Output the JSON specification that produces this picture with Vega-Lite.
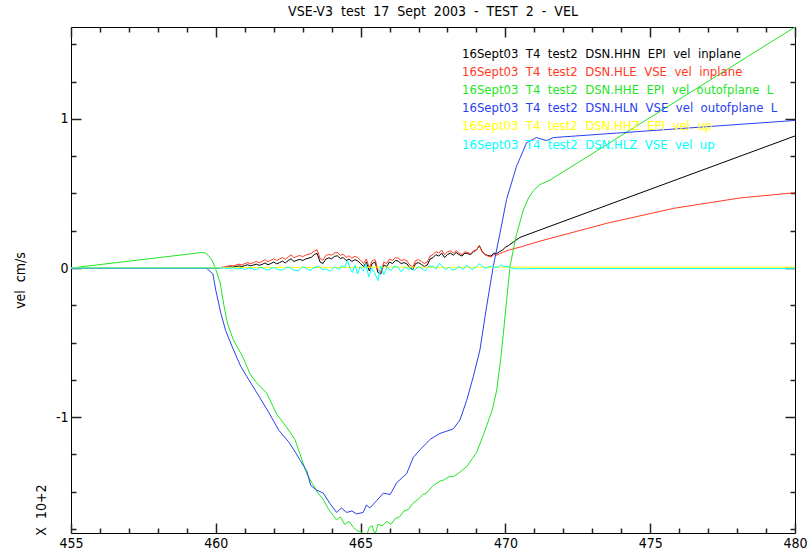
{
  "$schema": "https://vega.github.io/schema/vega-lite/v6.json",
  "width": 724,
  "height": 506,
  "autosize": {"type": "none"},
  "padding": {"left": 71, "top": 27, "right": 12, "bottom": 23},
  "background": "white",
  "title": {"text": "VSE-V3\u00a0 test\u00a0 17\u00a0 Sept\u00a0 2003\u00a0 -\u00a0 TEST\u00a0 2\u00a0 -\u00a0 VEL", "font": "DejaVu Sans Condensed, Roboto, sans-serif", "fontSize": 14, "fontWeight": "normal", "color": "black", "offset": 7},
  "config": {
    "view": {"stroke": "black", "strokeWidth": 1},
    "font": "DejaVu Sans Condensed, Roboto, sans-serif",
    "axis": {"domain": false, "ticks": true, "tickColor": "#222222", "tickOpacity": 1, "labelColor": "black", "labelFont": "DejaVu Sans Condensed, Roboto, sans-serif", "labelFontSize": 14, "grid": false, "titleFont": "DejaVu Sans Condensed, Roboto, sans-serif", "titleFontWeight": "normal", "titleColor": "black", "tickWidth": 1.5, "labelOverlap": false, "labelFlush": false, "zindex": 1}
  },
  "data": {"values": [
    {"s":"HHN","x":455,"y":0},{"s":"HHN","x":460.0,"y":0},{"s":"HHN","x":460.1,"y":0},{"s":"HHN","x":460.2,"y":0.002},{"s":"HHN","x":460.3,"y":0.004},{"s":"HHN","x":460.4,"y":0.006},{"s":"HHN","x":460.5,"y":0.008},{"s":"HHN","x":460.6,"y":0.006},{"s":"HHN","x":460.7,"y":0.01},{"s":"HHN","x":460.8,"y":0.014},{"s":"HHN","x":460.9,"y":0.01},
    {"s":"HHN","x":461.0,"y":0.016},{"s":"HHN","x":461.1,"y":0.022},{"s":"HHN","x":461.2,"y":0.014},{"s":"HHN","x":461.3,"y":0.02},{"s":"HHN","x":461.4,"y":0.026},{"s":"HHN","x":461.5,"y":0.018},{"s":"HHN","x":461.6,"y":0.024},{"s":"HHN","x":461.7,"y":0.034},{"s":"HHN","x":461.8,"y":0.022},{"s":"HHN","x":461.9,"y":0.03},
    {"s":"HHN","x":462.0,"y":0.04},{"s":"HHN","x":462.1,"y":0.028},{"s":"HHN","x":462.2,"y":0.036},{"s":"HHN","x":462.3,"y":0.046},{"s":"HHN","x":462.4,"y":0.034},{"s":"HHN","x":462.5,"y":0.05},{"s":"HHN","x":462.6,"y":0.062},{"s":"HHN","x":462.7,"y":0.044},{"s":"HHN","x":462.8,"y":0.052},{"s":"HHN","x":462.9,"y":0.058},
    {"s":"HHN","x":463.0,"y":0.05},{"s":"HHN","x":463.1,"y":0.06},{"s":"HHN","x":463.2,"y":0.066},{"s":"HHN","x":463.3,"y":0.072},{"s":"HHN","x":463.4,"y":0.09},{"s":"HHN","x":463.5,"y":0.098},{"s":"HHN","x":463.6,"y":0.04},{"s":"HHN","x":463.7,"y":0.03},{"s":"HHN","x":463.8,"y":0.06},{"s":"HHN","x":463.9,"y":0.068},
    {"s":"HHN","x":464.0,"y":0.062},{"s":"HHN","x":464.1,"y":0.078},{"s":"HHN","x":464.2,"y":0.082},{"s":"HHN","x":464.3,"y":0.064},{"s":"HHN","x":464.4,"y":0.07},{"s":"HHN","x":464.5,"y":0.05},{"s":"HHN","x":464.6,"y":0.06},{"s":"HHN","x":464.7,"y":0.044},{"s":"HHN","x":464.8,"y":0.056},{"s":"HHN","x":464.9,"y":0.048},
    {"s":"HHN","x":465.0,"y":0.03},{"s":"HHN","x":465.1,"y":0.01},{"s":"HHN","x":465.2,"y":0.04},{"s":"HHN","x":465.3,"y":-0.02},{"s":"HHN","x":465.4,"y":0.03},{"s":"HHN","x":465.5,"y":0.04},{"s":"HHN","x":465.6,"y":-0.03},{"s":"HHN","x":465.7,"y":-0.04},{"s":"HHN","x":465.8,"y":0.02},{"s":"HHN","x":465.9,"y":0.01},
    {"s":"HHN","x":466.0,"y":0.04},{"s":"HHN","x":466.1,"y":0.03},{"s":"HHN","x":466.2,"y":0.05},{"s":"HHN","x":466.3,"y":0.046},{"s":"HHN","x":466.4,"y":0.03},{"s":"HHN","x":466.5,"y":0.036},{"s":"HHN","x":466.6,"y":0.028},{"s":"HHN","x":466.7,"y":0.0},{"s":"HHN","x":466.8,"y":-0.01},{"s":"HHN","x":466.9,"y":0.03},
    {"s":"HHN","x":467.0,"y":0.036},{"s":"HHN","x":467.1,"y":0.024},{"s":"HHN","x":467.2,"y":0.01},{"s":"HHN","x":467.3,"y":0.02},{"s":"HHN","x":467.4,"y":0.06},{"s":"HHN","x":467.5,"y":0.07},{"s":"HHN","x":467.6,"y":0.09},{"s":"HHN","x":467.7,"y":0.08},{"s":"HHN","x":467.8,"y":0.1},{"s":"HHN","x":467.9,"y":0.07},
    {"s":"HHN","x":468.0,"y":0.09},{"s":"HHN","x":468.1,"y":0.1},{"s":"HHN","x":468.2,"y":0.086},{"s":"HHN","x":468.3,"y":0.104},{"s":"HHN","x":468.4,"y":0.09},{"s":"HHN","x":468.5,"y":0.08},{"s":"HHN","x":468.6,"y":0.1},{"s":"HHN","x":468.7,"y":0.096},{"s":"HHN","x":468.8,"y":0.09},{"s":"HHN","x":468.9,"y":0.11},
    {"s":"HHN","x":469.0,"y":0.12},{"s":"HHN","x":469.1,"y":0.15},{"s":"HHN","x":469.2,"y":0.11},{"s":"HHN","x":469.3,"y":0.09},{"s":"HHN","x":469.4,"y":0.084},{"s":"HHN","x":469.5,"y":0.08},{"s":"HHN","x":469.6,"y":0.1},{"s":"HHN","x":469.7,"y":0.096},{"s":"HHN","x":469.8,"y":0.11},{"s":"HHN","x":469.9,"y":0.12},
    {"s":"HHN","x":470.0,"y":0.14},{"s":"HHN","x":470.1,"y":0.15},{"s":"HHN","x":470.5,"y":0.205},{"s":"HHN","x":471.19,"y":0.255},{"s":"HHN","x":480,"y":0.886},

    {"s":"HLE","x":455,"y":0},{"s":"HLE","x":460.0,"y":0},{"s":"HLE","x":460.1,"y":0.002},{"s":"HLE","x":460.2,"y":0.004},{"s":"HLE","x":460.3,"y":0.008},{"s":"HLE","x":460.4,"y":0.012},{"s":"HLE","x":460.5,"y":0.016},{"s":"HLE","x":460.6,"y":0.014},{"s":"HLE","x":460.7,"y":0.02},{"s":"HLE","x":460.8,"y":0.026},{"s":"HLE","x":460.9,"y":0.02},
    {"s":"HLE","x":461.0,"y":0.03},{"s":"HLE","x":461.1,"y":0.036},{"s":"HLE","x":461.2,"y":0.028},{"s":"HLE","x":461.3,"y":0.036},{"s":"HLE","x":461.4,"y":0.044},{"s":"HLE","x":461.5,"y":0.034},{"s":"HLE","x":461.6,"y":0.044},{"s":"HLE","x":461.7,"y":0.056},{"s":"HLE","x":461.8,"y":0.042},{"s":"HLE","x":461.9,"y":0.052},
    {"s":"HLE","x":462.0,"y":0.062},{"s":"HLE","x":462.1,"y":0.05},{"s":"HLE","x":462.2,"y":0.06},{"s":"HLE","x":462.3,"y":0.07},{"s":"HLE","x":462.4,"y":0.058},{"s":"HLE","x":462.5,"y":0.074},{"s":"HLE","x":462.6,"y":0.088},{"s":"HLE","x":462.7,"y":0.068},{"s":"HLE","x":462.8,"y":0.078},{"s":"HLE","x":462.9,"y":0.084},
    {"s":"HLE","x":463.0,"y":0.076},{"s":"HLE","x":463.1,"y":0.086},{"s":"HLE","x":463.2,"y":0.092},{"s":"HLE","x":463.3,"y":0.098},{"s":"HLE","x":463.4,"y":0.114},{"s":"HLE","x":463.5,"y":0.122},{"s":"HLE","x":463.6,"y":0.064},{"s":"HLE","x":463.7,"y":0.052},{"s":"HLE","x":463.8,"y":0.084},{"s":"HLE","x":463.9,"y":0.092},
    {"s":"HLE","x":464.0,"y":0.086},{"s":"HLE","x":464.1,"y":0.1},{"s":"HLE","x":464.2,"y":0.104},{"s":"HLE","x":464.3,"y":0.086},{"s":"HLE","x":464.4,"y":0.092},{"s":"HLE","x":464.5,"y":0.07},{"s":"HLE","x":464.6,"y":0.082},{"s":"HLE","x":464.7,"y":0.066},{"s":"HLE","x":464.8,"y":0.078},{"s":"HLE","x":464.9,"y":0.07},
    {"s":"HLE","x":465.0,"y":0.052},{"s":"HLE","x":465.1,"y":0.03},{"s":"HLE","x":465.2,"y":0.06},{"s":"HLE","x":465.3,"y":0.0},{"s":"HLE","x":465.4,"y":0.05},{"s":"HLE","x":465.5,"y":0.056},{"s":"HLE","x":465.6,"y":-0.01},{"s":"HLE","x":465.7,"y":-0.03},{"s":"HLE","x":465.8,"y":0.04},{"s":"HLE","x":465.9,"y":0.03},
    {"s":"HLE","x":466.0,"y":0.06},{"s":"HLE","x":466.1,"y":0.05},{"s":"HLE","x":466.2,"y":0.07},{"s":"HLE","x":466.3,"y":0.066},{"s":"HLE","x":466.4,"y":0.05},{"s":"HLE","x":466.5,"y":0.056},{"s":"HLE","x":466.6,"y":0.048},{"s":"HLE","x":466.7,"y":0.02},{"s":"HLE","x":466.8,"y":0.004},{"s":"HLE","x":466.9,"y":0.05},
    {"s":"HLE","x":467.0,"y":0.056},{"s":"HLE","x":467.1,"y":0.044},{"s":"HLE","x":467.2,"y":0.03},{"s":"HLE","x":467.3,"y":0.04},{"s":"HLE","x":467.4,"y":0.08},{"s":"HLE","x":467.5,"y":0.09},{"s":"HLE","x":467.6,"y":0.11},{"s":"HLE","x":467.7,"y":0.1},{"s":"HLE","x":467.8,"y":0.12},{"s":"HLE","x":467.9,"y":0.09},
    {"s":"HLE","x":468.0,"y":0.108},{"s":"HLE","x":468.1,"y":0.116},{"s":"HLE","x":468.2,"y":0.1},{"s":"HLE","x":468.3,"y":0.116},{"s":"HLE","x":468.4,"y":0.1},{"s":"HLE","x":468.5,"y":0.09},{"s":"HLE","x":468.6,"y":0.108},{"s":"HLE","x":468.7,"y":0.104},{"s":"HLE","x":468.8,"y":0.096},{"s":"HLE","x":468.9,"y":0.114},
    {"s":"HLE","x":469.0,"y":0.122},{"s":"HLE","x":469.1,"y":0.148},{"s":"HLE","x":469.2,"y":0.108},{"s":"HLE","x":469.3,"y":0.088},{"s":"HLE","x":469.4,"y":0.08},{"s":"HLE","x":469.5,"y":0.074},{"s":"HLE","x":469.6,"y":0.09},{"s":"HLE","x":469.7,"y":0.086},{"s":"HLE","x":469.8,"y":0.096},{"s":"HLE","x":469.9,"y":0.104},
    {"s":"HLE","x":470.0,"y":0.112},{"s":"HLE","x":470.1,"y":0.12},{"s":"HLE","x":470.5,"y":0.14},{"s":"HLE","x":471.19,"y":0.18},{"s":"HLE","x":473.5,"y":0.3},{"s":"HLE","x":475.8,"y":0.4},{"s":"HLE","x":478.1,"y":0.47},{"s":"HLE","x":480,"y":0.505},

    {"s":"HHE","x":455,"y":0},{"s":"HHE","x":456,"y":0.023},{"s":"HHE","x":457,"y":0.046},{"s":"HHE","x":458,"y":0.069},{"s":"HHE","x":459,"y":0.092},{"s":"HHE","x":459.5,"y":0.104},{"s":"HHE","x":459.65,"y":0.1},{"s":"HHE","x":459.8,"y":0.072},{"s":"HHE","x":459.9,"y":0.04},{"s":"HHE","x":460.0,"y":-0.01},
    {"s":"HHE","x":460.15,"y":-0.1},{"s":"HHE","x":460.28,"y":-0.25},{"s":"HHE","x":460.4,"y":-0.37},{"s":"HHE","x":460.6,"y":-0.48},{"s":"HHE","x":460.94,"y":-0.6},{"s":"HHE","x":461.18,"y":-0.71},{"s":"HHE","x":461.41,"y":-0.77},{"s":"HHE","x":461.76,"y":-0.84},{"s":"HHE","x":462.1,"y":-0.98},{"s":"HHE","x":462.45,"y":-1.07},
    {"s":"HHE","x":462.73,"y":-1.15},{"s":"HHE","x":462.91,"y":-1.25},{"s":"HHE","x":463.1,"y":-1.36},{"s":"HHE","x":463.2,"y":-1.4},{"s":"HHE","x":463.31,"y":-1.44},{"s":"HHE","x":463.53,"y":-1.51},{"s":"HHE","x":463.7,"y":-1.55},{"s":"HHE","x":463.9,"y":-1.62},{"s":"HHE","x":464.05,"y":-1.66},{"s":"HHE","x":464.17,"y":-1.69},
    {"s":"HHE","x":464.3,"y":-1.67},{"s":"HHE","x":464.45,"y":-1.72},{"s":"HHE","x":464.6,"y":-1.7},{"s":"HHE","x":464.75,"y":-1.74},{"s":"HHE","x":464.85,"y":-1.76},{"s":"HHE","x":465.0,"y":-1.77},{"s":"HHE","x":465.2,"y":-1.8},{"s":"HHE","x":465.3,"y":-1.74},{"s":"HHE","x":465.4,"y":-1.73},{"s":"HHE","x":465.5,"y":-1.79},
    {"s":"HHE","x":465.6,"y":-1.72},{"s":"HHE","x":465.75,"y":-1.73},{"s":"HHE","x":465.9,"y":-1.7},{"s":"HHE","x":466.05,"y":-1.72},{"s":"HHE","x":466.2,"y":-1.68},{"s":"HHE","x":466.35,"y":-1.67},{"s":"HHE","x":466.5,"y":-1.63},{"s":"HHE","x":466.65,"y":-1.62},{"s":"HHE","x":466.8,"y":-1.58},{"s":"HHE","x":467.0,"y":-1.55},
    {"s":"HHE","x":467.15,"y":-1.52},{"s":"HHE","x":467.28,"y":-1.51},{"s":"HHE","x":467.5,"y":-1.46},{"s":"HHE","x":467.74,"y":-1.43},{"s":"HHE","x":467.9,"y":-1.42},{"s":"HHE","x":468.05,"y":-1.4},{"s":"HHE","x":468.2,"y":-1.4},{"s":"HHE","x":468.43,"y":-1.37},{"s":"HHE","x":468.55,"y":-1.35},{"s":"HHE","x":468.68,"y":-1.33},
    {"s":"HHE","x":468.85,"y":-1.28},{"s":"HHE","x":469.0,"y":-1.24},{"s":"HHE","x":469.2,"y":-1.14},{"s":"HHE","x":469.35,"y":-1.06},{"s":"HHE","x":469.55,"y":-0.95},{"s":"HHE","x":469.7,"y":-0.82},{"s":"HHE","x":469.82,"y":-0.64},{"s":"HHE","x":469.93,"y":-0.44},{"s":"HHE","x":470.05,"y":-0.2},{"s":"HHE","x":470.16,"y":0.01},
    {"s":"HHE","x":470.28,"y":0.13},{"s":"HHE","x":470.39,"y":0.23},{"s":"HHE","x":470.62,"y":0.39},{"s":"HHE","x":470.8,"y":0.47},{"s":"HHE","x":470.97,"y":0.52},{"s":"HHE","x":471.2,"y":0.56},{"s":"HHE","x":471.54,"y":0.59},{"s":"HHE","x":480,"y":1.617},

    {"s":"HLN","x":455,"y":0},{"s":"HLN","x":459.6,"y":0},{"s":"HLN","x":459.7,"y":-0.005},{"s":"HLN","x":459.9,"y":-0.04},{"s":"HLN","x":460.0,"y":-0.15},{"s":"HLN","x":460.17,"y":-0.3},{"s":"HLN","x":460.34,"y":-0.42},{"s":"HLN","x":460.57,"y":-0.53},{"s":"HLN","x":460.86,"y":-0.66},{"s":"HLN","x":461.14,"y":-0.75},
    {"s":"HLN","x":461.49,"y":-0.86},{"s":"HLN","x":461.83,"y":-0.97},{"s":"HLN","x":462.18,"y":-1.09},{"s":"HLN","x":462.53,"y":-1.17},{"s":"HLN","x":462.76,"y":-1.24},{"s":"HLN","x":462.91,"y":-1.29},{"s":"HLN","x":463.14,"y":-1.36},{"s":"HLN","x":463.28,"y":-1.46},{"s":"HLN","x":463.48,"y":-1.49},{"s":"HLN","x":463.71,"y":-1.51},
    {"s":"HLN","x":463.94,"y":-1.58},{"s":"HLN","x":464.17,"y":-1.64},{"s":"HLN","x":464.34,"y":-1.61},{"s":"HLN","x":464.52,"y":-1.64},{"s":"HLN","x":464.7,"y":-1.63},{"s":"HLN","x":464.86,"y":-1.65},{"s":"HLN","x":465.09,"y":-1.64},{"s":"HLN","x":465.2,"y":-1.59},{"s":"HLN","x":465.32,"y":-1.61},{"s":"HLN","x":465.56,"y":-1.56},
    {"s":"HLN","x":465.79,"y":-1.51},{"s":"HLN","x":466.02,"y":-1.52},{"s":"HLN","x":466.25,"y":-1.44},{"s":"HLN","x":466.59,"y":-1.38},{"s":"HLN","x":466.82,"y":-1.27},{"s":"HLN","x":467.05,"y":-1.22},{"s":"HLN","x":467.4,"y":-1.15},{"s":"HLN","x":467.74,"y":-1.11},{"s":"HLN","x":468.2,"y":-1.08},{"s":"HLN","x":468.43,"y":-1.02},
    {"s":"HLN","x":468.66,"y":-0.89},{"s":"HLN","x":468.89,"y":-0.73},{"s":"HLN","x":469.12,"y":-0.55},{"s":"HLN","x":469.35,"y":-0.26},{"s":"HLN","x":469.58,"y":0.01},{"s":"HLN","x":469.81,"y":0.23},{"s":"HLN","x":470.04,"y":0.46},{"s":"HLN","x":470.38,"y":0.68},{"s":"HLN","x":470.73,"y":0.84},{"s":"HLN","x":471.07,"y":0.875},
    {"s":"HLN","x":471.42,"y":0.855},{"s":"HLN","x":471.65,"y":0.875},{"s":"HLN","x":480,"y":0.99},

    {"s":"HHZ","x":455,"y":0.002},{"s":"HHZ","x":460,"y":0.002},{"s":"HHZ","x":462,"y":0.004},{"s":"HHZ","x":464,"y":0.003},{"s":"HHZ","x":466,"y":0.006},{"s":"HHZ","x":468,"y":0.004},{"s":"HHZ","x":470,"y":0.006},{"s":"HHZ","x":480,"y":0.006},

    {"s":"HLZ","x":455,"y":0},{"s":"HLZ","x":460.3,"y":0},{"s":"HLZ","x":460.45,"y":-0.004},{"s":"HLZ","x":460.6,"y":0.002},{"s":"HLZ","x":460.7,"y":-0.006},{"s":"HLZ","x":460.9,"y":-0.002},{"s":"HLZ","x":461.0,"y":-0.01},
    {"s":"HLZ","x":461.15,"y":0.002},{"s":"HLZ","x":461.25,"y":-0.004},{"s":"HLZ","x":461.4,"y":-0.012},{"s":"HLZ","x":461.55,"y":0.006},{"s":"HLZ","x":461.7,"y":-0.008},{"s":"HLZ","x":461.8,"y":-0.014},{"s":"HLZ","x":462.0,"y":0.004},
    {"s":"HLZ","x":462.1,"y":-0.006},{"s":"HLZ","x":462.3,"y":-0.016},{"s":"HLZ","x":462.45,"y":0.006},{"s":"HLZ","x":462.55,"y":0.002},{"s":"HLZ","x":462.7,"y":-0.014},{"s":"HLZ","x":462.85,"y":-0.02},{"s":"HLZ","x":463.0,"y":0.008},
    {"s":"HLZ","x":463.15,"y":-0.004},{"s":"HLZ","x":463.25,"y":-0.018},{"s":"HLZ","x":463.4,"y":0.004},{"s":"HLZ","x":463.55,"y":0.012},{"s":"HLZ","x":463.7,"y":-0.012},{"s":"HLZ","x":463.8,"y":-0.006},{"s":"HLZ","x":463.95,"y":-0.022},
    {"s":"HLZ","x":464.1,"y":0.008},{"s":"HLZ","x":464.25,"y":-0.01},{"s":"HLZ","x":464.35,"y":0.016},{"s":"HLZ","x":464.45,"y":0.004},{"s":"HLZ","x":464.55,"y":0.05},{"s":"HLZ","x":464.65,"y":-0.01},{"s":"HLZ","x":464.72,"y":-0.03},{"s":"HLZ","x":464.8,"y":0.02},
    {"s":"HLZ","x":464.9,"y":-0.04},{"s":"HLZ","x":464.98,"y":0.01},{"s":"HLZ","x":465.1,"y":-0.02},{"s":"HLZ","x":465.18,"y":0.03},{"s":"HLZ","x":465.28,"y":-0.06},{"s":"HLZ","x":465.38,"y":0.0},{"s":"HLZ","x":465.48,"y":-0.03},{"s":"HLZ","x":465.6,"y":-0.085},
    {"s":"HLZ","x":465.7,"y":0.015},{"s":"HLZ","x":465.8,"y":-0.045},{"s":"HLZ","x":465.92,"y":0.006},{"s":"HLZ","x":466.05,"y":-0.018},{"s":"HLZ","x":466.15,"y":0.012},{"s":"HLZ","x":466.3,"y":0.004},{"s":"HLZ","x":466.4,"y":-0.026},{"s":"HLZ","x":466.55,"y":0.008},
    {"s":"HLZ","x":466.65,"y":-0.012},{"s":"HLZ","x":466.75,"y":0.004},{"s":"HLZ","x":466.85,"y":-0.018},{"s":"HLZ","x":467.0,"y":0.01},{"s":"HLZ","x":467.12,"y":-0.004},{"s":"HLZ","x":467.22,"y":-0.02},{"s":"HLZ","x":467.35,"y":0.008},{"s":"HLZ","x":467.5,"y":0.014},
    {"s":"HLZ","x":467.6,"y":-0.008},{"s":"HLZ","x":467.72,"y":0.032},{"s":"HLZ","x":467.82,"y":0.012},{"s":"HLZ","x":467.95,"y":-0.01},{"s":"HLZ","x":468.05,"y":0.006},{"s":"HLZ","x":468.15,"y":-0.014},{"s":"HLZ","x":468.3,"y":-0.006},{"s":"HLZ","x":468.4,"y":0.01},
    {"s":"HLZ","x":468.55,"y":-0.008},{"s":"HLZ","x":468.65,"y":0.02},{"s":"HLZ","x":468.75,"y":0.006},{"s":"HLZ","x":468.85,"y":-0.01},{"s":"HLZ","x":469.0,"y":0.01},{"s":"HLZ","x":469.1,"y":0.028},{"s":"HLZ","x":469.22,"y":0.008},{"s":"HLZ","x":469.35,"y":-0.002},
    {"s":"HLZ","x":469.45,"y":0.012},{"s":"HLZ","x":469.6,"y":0.004},{"s":"HLZ","x":469.75,"y":0.006},{"s":"HLZ","x":469.85,"y":0.022},{"s":"HLZ","x":469.95,"y":0.008},{"s":"HLZ","x":470.1,"y":0.01},{"s":"HLZ","x":470.3,"y":-0.004},{"s":"HLZ","x":470.5,"y":-0.006},
    {"s":"HLZ","x":471.0,"y":-0.004},{"s":"HLZ","x":480,"y":-0.004}
  ]},
  "resolve": {"axis": {"x": "independent", "y": "independent"}},
  "layer": [
    {
      "mark": {"type": "line", "strokeWidth": 1, "clip": true},
      "encoding": {
        "x": {"field": "x", "type": "quantitative",
          "scale": {"domain": [455, 480], "nice": false, "zero": false},
          "axis": {"orient": "bottom", "title": null, "values": [455,460,465,470,475,480], "offset": -10, "tickSize": 10, "labelPadding": 3}},
        "y": {"field": "y", "type": "quantitative",
          "scale": {"domain": [-1.778, 1.617], "nice": false, "zero": false},
          "axis": {"orient": "left", "title": "vel\u00a0 cm/s", "titleFontSize": 14, "titlePadding": 28,
            "values": [-1, 0, 1],
            "labelExpr": "datum.value === 1 ? '1' : datum.value === 0 ? '0' : '-1'",
            "offset": -10, "tickSize": 10, "labelPadding": 3}},
        "color": {"field": "s", "type": "nominal",
          "scale": {"domain": ["HHN","HLE","HHE","HLN","HHZ","HLZ"], "range": ["#000000","#ff3a1e","#1ee61e","#2a40f0","#ffff00","#00ffff"]},
          "legend": {"orient": "none", "legendX": 378, "legendY": 20, "title": null, "symbolSize": 0, "symbolOpacity": 0, "symbolStrokeWidth": 0,
            "labelFont": "DejaVu Sans Condensed, Roboto, sans-serif", "labelFontSize": 13, "labelLimit": 600, "rowPadding": 4.2, "padding": 0, "labelOffset": 0,
            "labelExpr": "{'HHN':'16Sept03\u00a0 T4\u00a0 test2\u00a0 DSN.HHN\u00a0 EPI\u00a0 vel\u00a0 inplane','HLE':'16Sept03\u00a0 T4\u00a0 test2\u00a0 DSN.HLE\u00a0 VSE\u00a0 vel\u00a0 inplane','HHE':'16Sept03\u00a0 T4\u00a0 test2\u00a0 DSN.HHE\u00a0 EPI\u00a0 vel\u00a0 outofplane\u00a0 L','HLN':'16Sept03\u00a0 T4\u00a0 test2\u00a0 DSN.HLN\u00a0 VSE\u00a0 vel\u00a0 outofplane\u00a0 L','HHZ':'16Sept03\u00a0 T4\u00a0 test2\u00a0 DSN.HHZ\u00a0 EPI\u00a0 vel\u00a0 up','HLZ':'16Sept03\u00a0 T4\u00a0 test2\u00a0 DSN.HLZ\u00a0 VSE\u00a0 vel\u00a0 up'}[datum.label]",
            "encode": {"labels": {"update": {"fill": {"scale": "color", "field": "value"}}}}}
        }
      }
    },
    {
      "data": {"values": [{}]},
      "mark": {"type": "rule", "opacity": 0},
      "encoding": {
        "x": {"datum": 455, "type": "quantitative",
          "axis": {"orient": "top", "title": null, "labels": false, "values": [455,460,465,470,475,480], "offset": -10, "tickSize": 10}},
        "y": {"datum": 0, "type": "quantitative",
          "axis": {"orient": "right", "title": null, "labels": false, "values": [-1, 0, 1], "offset": -10, "tickSize": 10}}
      }
    },
    {
      "data": {"values": [{}]},
      "mark": {"type": "rule", "opacity": 0},
      "encoding": {
        "x": {"datum": 455, "type": "quantitative",
          "axis": {"orient": "bottom", "title": null, "labels": false, "values": [456,457,458,459,461,462,463,464,466,467,468,469,471,472,473,474,476,477,478,479], "offset": -5, "tickSize": 5}},
        "y": {"datum": 0, "type": "quantitative",
          "axis": {"orient": "left", "title": null, "labels": false, "values": [-1.75,-1.5,-1.25,-0.75,-0.5,-0.25,0.25,0.5,0.75,1.25,1.5], "offset": -5, "tickSize": 5}}
      }
    },
    {
      "data": {"values": [{}]},
      "mark": {"type": "rule", "opacity": 0},
      "encoding": {
        "x": {"datum": 455, "type": "quantitative",
          "axis": {"orient": "top", "title": null, "labels": false, "values": [456,457,458,459,461,462,463,464,466,467,468,469,471,472,473,474,476,477,478,479], "offset": -5, "tickSize": 5}},
        "y": {"datum": 0, "type": "quantitative",
          "axis": {"orient": "right", "title": null, "labels": false, "values": [-1.75,-1.5,-1.25,-0.75,-0.5,-0.25,0.25,0.5,0.75,1.25,1.5], "offset": -5, "tickSize": 5}}
      }
    },
    {
      "data": {"values": [{"t": "X\u00a0 10+2"}]},
      "mark": {"type": "text", "angle": 270, "dy": -29, "align": "center", "baseline": "middle", "font": "DejaVu Sans Condensed, Roboto, sans-serif", "fontSize": 14, "color": "black"},
      "encoding": {
        "x": {"datum": 455, "type": "quantitative", "axis": null},
        "y": {"datum": -1.624, "type": "quantitative", "axis": null},
        "text": {"field": "t"}
      }
    }
  ]
}
